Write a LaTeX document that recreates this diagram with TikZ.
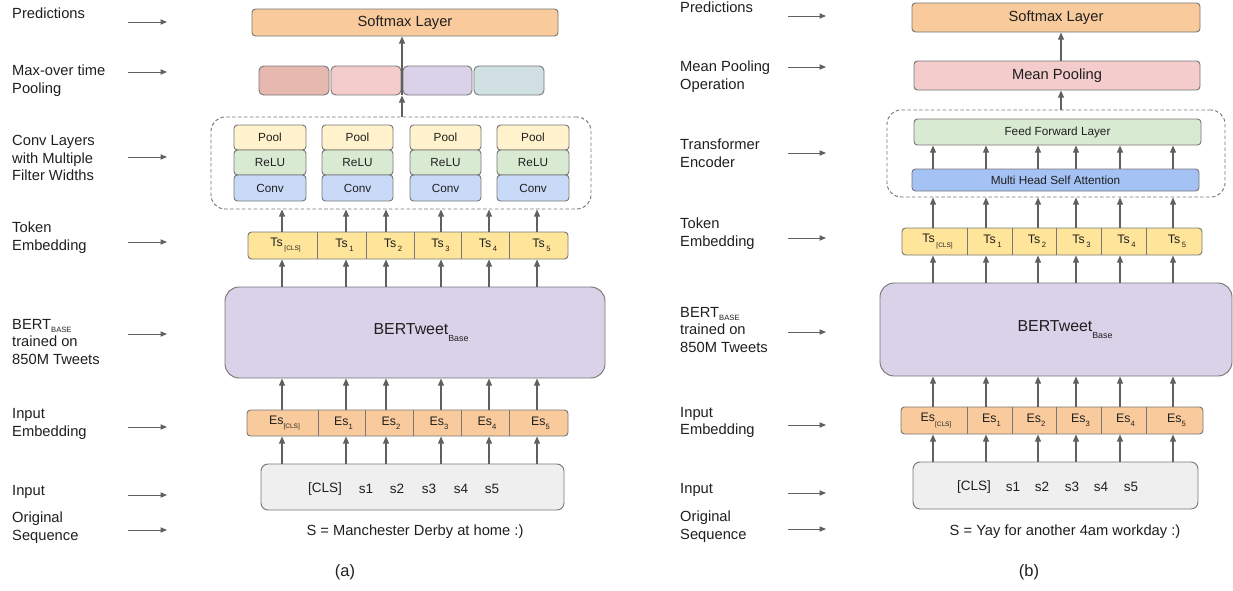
\documentclass[tikz,border=0pt]{standalone}
\usepackage{fontspec}
\setmainfont{Liberation Sans}
\usetikzlibrary{arrows.meta}
\definecolor{boxline}{HTML}{777777}
\definecolor{arrg}{HTML}{606060}
\definecolor{txtc}{HTML}{1F1F1F}
\definecolor{cOrange}{HTML}{F9CB9C}
\definecolor{cRed}{HTML}{E6B8AF}
\definecolor{cPink}{HTML}{F4CCCC}
\definecolor{cLav}{HTML}{D9D2E9}
\definecolor{cTeal}{HTML}{D0E0E3}
\definecolor{cYelLight}{HTML}{FFF2CC}
\definecolor{cGreen}{HTML}{D9EAD3}
\definecolor{cBlueLight}{HTML}{C9DAF8}
\definecolor{cBlue}{HTML}{A4C2F4}
\definecolor{cYel}{HTML}{FFE599}
\definecolor{cGray}{HTML}{EFEFEF}
\newcommand\bx[7]{\node[#6, minimum width={(#4-#2)*0.85pt}, minimum height={(#5-#3)*0.85pt}, inner sep=0pt] (#1) at ({(#2+#4)/2},{(#3+#5)/2}) {#7};}
\newcommand\sbs[1]{\raisebox{-0.38em}{\fontsize{5.5}{6}\selectfont #1}}
\newcommand\sbn[1]{\raisebox{-0.35em}{\fontsize{6.5}{7}\selectfont #1}}
\newcommand\sbl[1]{\raisebox{-0.22em}{\fontsize{6.5}{7}\selectfont #1}}
\tikzset{
  box/.style={draw=boxline, line width=0.8pt, rounded corners=3pt, text=txtc},
  arr/.style={draw=arrg, line width=0.9pt, -{Triangle[length=6pt,width=5pt]}},
  larr/.style={draw=arrg, line width=0.8pt, -{Triangle[length=5.5pt,width=4.5pt]}},
  lab/.style={anchor=west, align=left, inner sep=0pt, text=txtc, font=\fontsize{12.5}{15}\selectfont},
  big/.style={font=\fontsize{12.5}{15}\selectfont},
  small/.style={font=\fontsize{10}{12}\selectfont},
  cell/.style={inner sep=0pt, text=txtc, font=\fontsize{10.5}{12}\selectfont},
  dashbox/.style={draw=boxline, line width=0.8pt, dash pattern=on 3pt off 2pt, rounded corners=12pt},
}
\begin{document}
\begin{tikzpicture}[x=0.85pt,y=-0.85pt]
\useasboundingbox (0,0) rectangle (1233,590);

% ================= LEFT LABELS =================
\node[lab] (la1) at (12,13) {Predictions};
\node[lab] (la2) at (12,81) {Max-over time\\Pooling};
\node[lab] (la3) at (12,158) {Conv Layers\\with Multiple\\Filter Widths};
\node[lab] (la4) at (12,238) {Token\\Embedding};
\node[lab] (la5) at (12,342) {BERT\sbl{BASE}\\trained on\\850M Tweets};
\node[lab] (la6) at (12,424) {Input\\Embedding};
\node[lab] (la7) at (12,492) {Input};
\node[lab] (la8) at (12,527.5) {Original\\Sequence};
\foreach \i/\y in {1/22,2/72,3/157,4/242,5/334,6/427,7/495,8/530}{
  \coordinate (las\i) at (128,\y);
  \coordinate (lae\i) at (167,\y);
  \draw[larr] (las\i) -- (lae\i);
}

% ================= RIGHT LABELS =================
\node[lab] (lb1) at (680,7) {Predictions};
\node[lab] (lb2) at (680,76.5) {Mean Pooling\\Operation};
\node[lab] (lb3) at (680,153) {Transformer\\Encoder};
\node[lab] (lb4) at (680,234) {Token\\Embedding};
\node[lab] (lb5) at (680,330) {BERT\sbl{BASE}\\trained on\\850M Tweets};
\node[lab] (lb6) at (680,422.5) {Input\\Embedding};
\node[lab] (lb7) at (680,490) {Input};
\node[lab] (lb8) at (680,526.5) {Original\\Sequence};
\foreach \i/\y in {1/16,2/67,3/153,4/238,5/332,6/425,7/493,8/529}{
  \coordinate (lbs\i) at (788,\y);
  \coordinate (lbe\i) at (826,\y);
  \draw[larr] (lbs\i) -- (lbe\i);
}

% ================= LEFT DIAGRAM (a) =================
\bx{softA}{252}{9}{558}{36}{box, fill=cOrange, big}{Softmax Layer}
\bx{mp1}{259}{66}{329}{95}{box, rounded corners=4pt, fill=cRed}{}
\bx{mp2}{331}{66}{401}{95}{box, rounded corners=4pt, fill=cPink}{}
\bx{mp3}{403}{66}{472}{95}{box, rounded corners=4pt, fill=cLav}{}
\bx{mp4}{474}{66}{544}{95}{box, rounded corners=4pt, fill=cTeal}{}
\bx{dashA}{211}{117}{591}{209}{dashbox}{}
\foreach \c/\xa/\xb in {1/234/306,2/322/393,3/410/481,4/497/569}{
  \bx{pool\c}{\xa}{125}{\xb}{150}{box, fill=cYelLight, small}{Pool}
  \bx{relu\c}{\xa}{150}{\xb}{175}{box, fill=cGreen, small}{ReLU}
  \bx{conv\c}{\xa}{175}{\xb}{201}{box, fill=cBlueLight, small}{Conv}
}
% token embedding row
\bx{tokA}{248}{232}{568}{259}{box, fill=cYel}{}
\foreach \d in {317,366,414,461,509}{
  \coordinate (tdA\d) at (\d,245);
  \draw[boxline, line width=0.8pt] (tokA.north -| tdA\d) -- (tokA.south -| tdA\d);
}
\foreach \i/\xa/\xb/\t in {0/248/317/{Ts\hspace{1.5pt}\sbs{[CLS]}},1/317/366/{Ts\hspace{1.5pt}\sbn{1}},2/366/414/{Ts\hspace{1.5pt}\sbn{2}},3/414/461/{Ts\hspace{1.5pt}\sbn{3}},4/461/509/{Ts\hspace{1.5pt}\sbn{4}},5/509/568/{Ts\hspace{1.5pt}\sbn{5}}}{
  \node[cell] (tA\i) at ({(\xa+\xb)/2+3},245) {\t};
}
% BERT
\bx{bertA}{225}{287}{605}{378}{box, rounded corners=12pt, fill=cLav}{}
\node[inner sep=0pt, text=txtc, font=\fontsize{13.5}{15}\selectfont] (bertAt) at (421,333) {BERTweet\raisebox{-0.45em}{\fontsize{7.5}{8}\selectfont Base}};
% input embedding
\bx{embA}{247}{410}{568}{436}{box, fill=cOrange}{}
\foreach \d in {318,365,413,461,509}{
  \coordinate (edA\d) at (\d,423);
  \draw[boxline, line width=0.8pt] (embA.north -| edA\d) -- (embA.south -| edA\d);
}
\foreach \i/\xa/\xb/\t in {0/247/318/{Es\sbs{[CLS]}},1/318/365/{Es\sbn{1}},2/365/413/{Es\sbn{2}},3/413/461/{Es\sbn{3}},4/461/509/{Es\sbn{4}},5/509/568/{Es\sbn{5}}}{
  \node[cell] (eA\i) at ({(\xa+\xb)/2+2},423) {\t};
}
% input
\bx{inA}{261}{464}{564}{510}{box, rounded corners=6pt, fill=cGray}{}
\foreach \i/\x/\t in {0/325/{[CLS]},1/366/s1,2/397/s2,3/429/s3,4/461/s4,5/492/s5}{
  \node[inner sep=0pt, text=txtc, font=\fontsize{11.5}{13}\selectfont] (iA\i) at (\x,489) {\t};
}
\node[inner sep=0pt, text=txtc, big] (seqA) at (415,532) {S = Manchester Derby at home :)};
\node[inner sep=0pt, text=txtc, font=\fontsize{14}{16}\selectfont] (capA) at (345,572) {(a)};

% arrows (a)
\foreach \x [count=\k] in {282,346,386,441,489,537}{
  \coordinate (axA\k) at (\x,0);
  \draw[arr] (inA.north -| axA\k) -- (embA.south -| axA\k);
  \draw[arr] (embA.north -| axA\k) -- (bertA.south -| axA\k);
  \draw[arr] (bertA.north -| axA\k) -- (tokA.south -| axA\k);
  \draw[arr] (tokA.north -| axA\k) -- (dashA.south -| axA\k);
}
\coordinate (mxA) at (402,0);
\draw[arr] (dashA.north -| mxA) -- (mp2.south -| mxA);
\draw[arr] (mp2.south -| mxA) -- (softA.south -| mxA);

% ================= RIGHT DIAGRAM (b) =================
\bx{softB}{912}{3}{1200}{32}{box, fill=cOrange, big}{Softmax Layer}
\bx{meanB}{914}{61}{1200}{90}{box, fill=cPink, big}{Mean Pooling}
\bx{dashB}{887}{110}{1225}{197}{dashbox}{}
\bx{ffB}{914}{119}{1201}{145}{box, fill=cGreen, small}{Feed Forward Layer}
\bx{mhsaB}{912}{169}{1199}{191}{box, fill=cBlue, small}{Multi Head Self Attention}
\bx{tokB}{902}{228}{1202}{255}{box, fill=cYel}{}
\foreach \d in {967,1012,1056,1101,1146}{
  \coordinate (tdB\d) at (\d,241);
  \draw[boxline, line width=0.8pt] (tokB.north -| tdB\d) -- (tokB.south -| tdB\d);
}
\foreach \i/\xa/\xb/\t in {0/902/967/{Ts\hspace{1.5pt}\sbs{[CLS]}},1/967/1012/{Ts\hspace{1.5pt}\sbn{1}},2/1012/1056/{Ts\hspace{1.5pt}\sbn{2}},3/1056/1101/{Ts\hspace{1.5pt}\sbn{3}},4/1101/1146/{Ts\hspace{1.5pt}\sbn{4}},5/1146/1202/{Ts\hspace{1.5pt}\sbn{5}}}{
  \node[cell] (tB\i) at ({(\xa+\xb)/2+3},241.5) {\t};
}
\bx{bertB}{880}{283}{1232}{376}{box, rounded corners=12pt, fill=cLav}{}
\node[inner sep=0pt, text=txtc, font=\fontsize{13.5}{15}\selectfont] (bertBt) at (1065,330) {BERTweet\raisebox{-0.45em}{\fontsize{7.5}{8}\selectfont Base}};
\bx{embB}{901}{407}{1203}{434}{box, fill=cOrange}{}
\foreach \d in {967,1012,1056,1101,1146}{
  \coordinate (edB\d) at (\d,420);
  \draw[boxline, line width=0.8pt] (embB.north -| edB\d) -- (embB.south -| edB\d);
}
\foreach \i/\xa/\xb/\t in {0/901/967/{Es\sbs{[CLS]}},1/967/1012/{Es\sbn{1}},2/1012/1056/{Es\sbn{2}},3/1056/1101/{Es\sbn{3}},4/1101/1146/{Es\sbn{4}},5/1146/1203/{Es\sbn{5}}}{
  \node[cell] (eB\i) at ({(\xa+\xb)/2+2},420.5) {\t};
}
\bx{inB}{913}{462}{1198}{509}{box, rounded corners=6pt, fill=cGray}{}
\foreach \i/\x/\t in {0/974/{[CLS]},1/1013/s1,2/1042/s2,3/1072/s3,4/1101/s4,5/1131/s5}{
  \node[inner sep=0pt, text=txtc, font=\fontsize{11.5}{13}\selectfont] (iB\i) at (\x,487) {\t};
}
\node[inner sep=0pt, text=txtc, big] (seqB) at (1065,532) {S = Yay for another 4am workday :)};
\node[inner sep=0pt, text=txtc, font=\fontsize{14}{16}\selectfont] (capB) at (1029,572) {(b)};

% arrows (b)
\foreach \x [count=\k] in {933,986,1038,1076,1120,1173}{
  \coordinate (axB\k) at (\x,0);
  \draw[arr] (inB.north -| axB\k) -- (embB.south -| axB\k);
  \draw[arr] (embB.north -| axB\k) -- (bertB.south -| axB\k);
  \draw[arr] (bertB.north -| axB\k) -- (tokB.south -| axB\k);
  \draw[arr] (tokB.north -| axB\k) -- (dashB.south -| axB\k);
  \draw[arr] (mhsaB.north -| axB\k) -- (ffB.south -| axB\k);
}
\coordinate (mxB) at (1061,0);
\draw[arr] (dashB.north -| mxB) -- (meanB.south -| mxB);
\draw[arr] (meanB.north -| mxB) -- (softB.south -| mxB);
\end{tikzpicture}
\end{document}
